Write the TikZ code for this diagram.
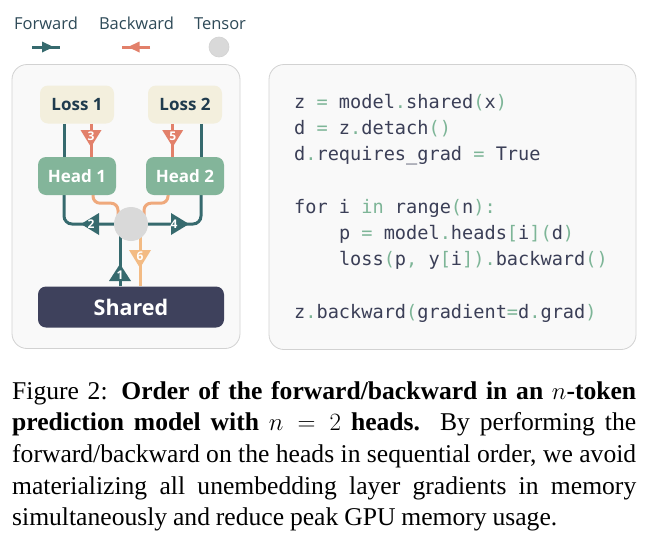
\documentclass[tikz,border=0pt]{standalone}
\usepackage{fontspec}
\setmainfont{Liberation Serif}
\newfontfamily\uisans{Open Sans}
\newfontfamily\codefont{DejaVu Sans Mono}
\usetikzlibrary{calc}
\pgfdeclarelayer{panellayer}
\pgfdeclarelayer{wires}
\pgfsetlayers{panellayer,wires,main}
\definecolor{fwdcol}{HTML}{366A6E}
\definecolor{bwdcol}{HTML}{E2806A}
\definecolor{orangecol}{HTML}{EFA97C}
\definecolor{peachcol}{HTML}{F3BB84}
\definecolor{tensorcol}{HTML}{D9D9D9}
\definecolor{lossfill}{HTML}{F3EFDD}
\definecolor{losstext}{HTML}{1F3B4D}
\definecolor{headfill}{HTML}{83B59A}
\definecolor{sharedfill}{HTML}{3E415C}
\definecolor{panelfill}{HTML}{F9F9F9}
\definecolor{panelline}{HTML}{D2D2D2}
\definecolor{codetext}{HTML}{3B3F57}
\definecolor{punctcol}{HTML}{7DB597}
\definecolor{legendtext}{HTML}{2E4A58}
\newcommand{\pc}[1]{\textcolor{punctcol}{#1}}
\tikzset{
  box/.style={rounded corners=8pt, inner sep=0pt, font=\uisans\bfseries\fontsize{17}{20}\selectfont},
  lossbox/.style={box, fill=lossfill, text=losstext, minimum width=74pt, minimum height=38pt},
  headbox/.style={box, fill=headfill, text=white, minimum width=78pt, minimum height=38pt},
  sharedbox/.style={box, fill=sharedfill, text=white, minimum width=186pt, minimum height=41pt, font=\uisans\bfseries\fontsize{21.5}{24}\selectfont},
  tensornode/.style={circle, fill=tensorcol, inner sep=0pt, minimum size=34pt},
  fwdline/.style={draw=fwdcol, line width=3pt, rounded corners=8pt},
  bwdline/.style={draw=bwdcol, line width=3pt},
  orangeline/.style={draw=orangecol, line width=3pt, rounded corners=7pt},
  peachline/.style={draw=peachcol, line width=3pt},
  digit/.style={font=\uisans\bfseries\fontsize{12}{12}\selectfont, text=white, inner sep=0pt},
  legendlabel/.style={font=\uisans\fontsize{16.5}{18}\selectfont, text=legendtext, inner sep=0pt, anchor=base},
  codeline/.style={font=\codefont\fontsize{18.6}{22}\selectfont, text=codetext, anchor=base west, inner sep=0pt},
  panelbox/.style={draw=panelline, fill=panelfill, line width=0.8pt, rounded corners=15pt},
}
\begin{document}
\begin{tikzpicture}[x=1pt,y=-1pt]
\useasboundingbox (0,0) rectangle (656,552);

% ---------- legend ----------
\node[legendlabel] (lgf) at (46,29) {Forward};
\node[legendlabel] (lgb) at (136.5,29) {Backward};
\node[legendlabel] (lgt) at (220,29) {Tensor};
\coordinate (fa) at (32,47);
\coordinate (fb) at (60,47);
\draw[fwdline] (fa) -- (fb);
\fill[fwdcol] (42,41.5) -- (53.5,47) -- (42,52.5) -- cycle;
\coordinate (ba) at (150,47);
\coordinate (bb) at (122,47);
\draw[bwdline] (ba) -- (bb);
\fill[bwdcol] (139.5,41.5) -- (128,47) -- (139.5,52.5) -- cycle;
\node[circle, fill=tensorcol, draw=panelline, line width=0.6pt, inner sep=0pt, minimum size=20pt] (lgc) at (219,47) {};

% ---------- panels ----------
\begin{pgfonlayer}{panellayer}
\fill[white] (0,0) rectangle (656,552);
\node[panelbox, minimum width=228pt, minimum height=284pt, inner sep=0pt] (leftpanel) at (126,206.5) {};
\node[panelbox, minimum width=367pt, minimum height=285pt, inner sep=0pt] (rightpanel) at (452.5,207) {};
\end{pgfonlayer}

% ---------- diagram nodes ----------
\node[lossbox] (loss1) at (77,104.5) {Loss 1};
\node[lossbox] (loss2) at (185,104.5) {Loss 2};
\node[headbox] (head1) at (77,176) {Head 1};
\node[headbox] (head2) at (185,176) {Head 2};
\node[sharedbox] (shared) at (131,307) {Shared};
\node[tensornode] (tensor) at (131,224) {};

% ---------- connectors ----------
\begin{pgfonlayer}{wires}
\draw[fwdline] ([xshift=-13pt]loss1.south) -- ([xshift=-13pt]head1.north);
\draw[fwdline] ([xshift=16pt]loss2.south) -- ([xshift=16pt]head2.north);
\draw[bwdline] ([xshift=14pt]loss1.south) -- ([xshift=14pt]head1.north);
\draw[bwdline] ([xshift=-12.3pt]loss2.south) -- ([xshift=-12.3pt]head2.north);
\draw[fwdline] (tensor.center) -| ([xshift=-13pt]head1.south);
\draw[fwdline] (tensor.center) -| ([xshift=16pt]head2.south);
\draw[fwdline] ([xshift=-11pt]shared.north) -- ([xshift=-11pt]tensor.center);
\draw[peachline] ([xshift=9pt]tensor.center) -- ([xshift=9pt]shared.north);
\draw[orangeline] ([xshift=16pt]head1.south) -- ++(0,8) -| ([xshift=-13pt]tensor.center);
\draw[orangeline] ([xshift=-17pt]head2.south) -- ++(0,8) -| ([xshift=13pt]tensor.center);
\end{pgfonlayer}

% ---------- arrow marks ----------
\fill[fwdcol] (120,264) -- (131,281) -- (109,281) -- cycle;
\node[digit] (d1) at (120,275) {1};
\fill[fwdcol] (81,224) -- (99,213) -- (99,235) -- cycle;
\node[digit] (d2) at (91,224.5) {2};
\fill[bwdcol] (80.5,130) -- (101.5,130) -- (91,147) -- cycle;
\node[digit] (d3) at (91,136) {3};
\fill[fwdcol] (189,224) -- (171,213) -- (171,235) -- cycle;
\node[digit] (d4) at (174,224.5) {4};
\fill[bwdcol] (162.2,130) -- (183.2,130) -- (172.7,147) -- cycle;
\node[digit] (d5) at (172.7,136) {5};
\fill[peachcol] (129,250) -- (151,250) -- (140,268) -- cycle;
\node[digit] (d6) at (140,256.5) {6};

% ---------- code ----------
\node[codeline] (c1) at (294,108.3) {z \pc{=} model\pc{.}shared\pc{(}x\pc{)}};
\node[codeline] (c2) at (294,134.6) {d \pc{=} z\pc{.}detach\pc{()}};
\node[codeline] (c3) at (294,160.8) {d\pc{.}requires\_grad \pc{=} True};
\node[codeline] (c4) at (294,213.3) {for i \pc{in} range\pc{(}n\pc{):}};
\node[codeline] (c5) at (338.8,239.6) {p \pc{=} model\pc{.}heads\pc{[}i\pc{](}d\pc{)}};
\node[codeline] (c6) at (338.8,265.8) {loss\pc{(}p\pc{,} y\pc{[}i\pc{]).}backward\pc{()}};
\node[codeline] (c7) at (294,318.3) {z\pc{.}backward\pc{(}gradient\pc{=}d\pc{.}grad\pc{)}};

% ---------- caption ----------
\node[anchor=north west, inner sep=0pt, text width=624pt, align=justify,
      font=\fontsize{25.6}{31.6}\selectfont] (caption) at (12,381)
{\spaceskip=0.23em plus 0.15em minus 0.1em
Figure 2: {\bfseries Order of the forward/backward in an $n$-token\linebreak
prediction model with $n = 2$ heads.} By performing the\linebreak
forward/backward on the heads in sequential order, we avoid\linebreak
materializing all unembedding layer gradients in memory\linebreak
simultaneously and reduce peak GPU memory usage.};
\end{tikzpicture}
\end{document}
